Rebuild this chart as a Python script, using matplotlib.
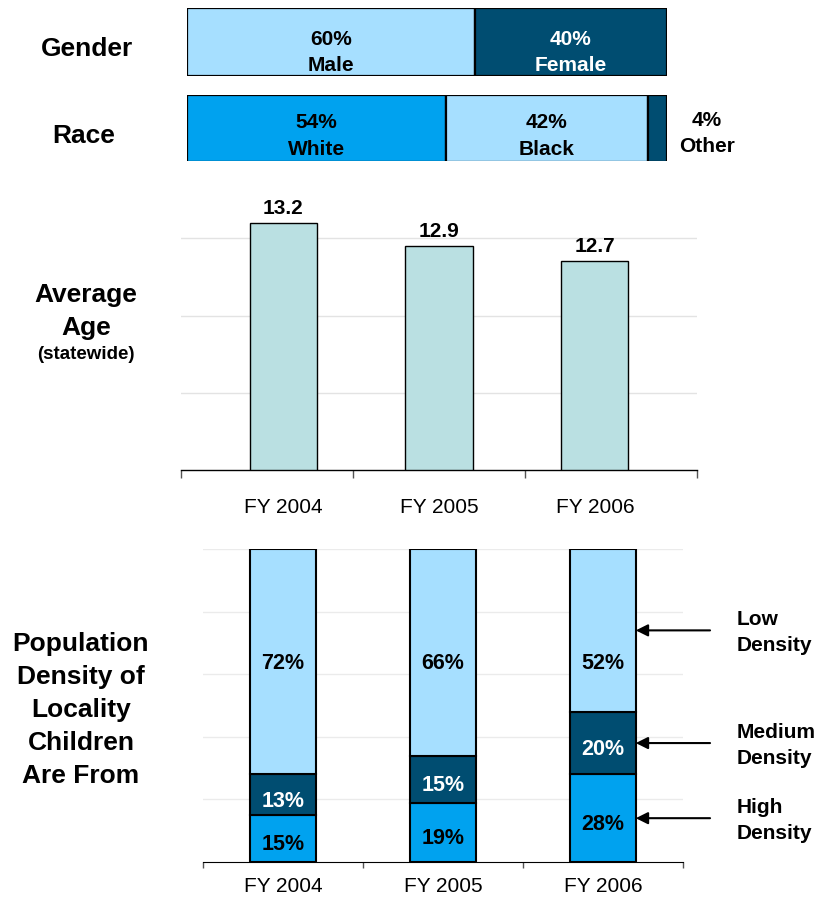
import numpy as np
import matplotlib
matplotlib.use("Agg")
import matplotlib.pyplot as plt

plt.rcParams['font.family'] = ['Liberation Sans', 'DejaVu Sans']

# datos
genero_labels = ["Male", "Female"]
genero_vals = [60, 40]
raza_labels = ["White", "Black", "Other"]
raza_vals = [54, 42, 4]

años = ["FY 2004", "FY 2005", "FY 2006"]
edad_prom = [13.2, 12.9, 12.7]

densidad_alta = [15, 19, 28]
densidad_media = [13, 15, 20]
densidad_baja = [72, 66, 52]
densidad_nombres = ["Low\nDensity", "Medium\nDensity", "High\nDensity"]

# colores
CLARO = '#A6DFFF'
OSCURO = '#004D71'
BRILLANTE = '#00A2EF'
EDAD = '#BAE0E2'

W, H = 827, 900


def px(l, t, r, b):
    return [l / W, 1 - b / H, (r - l) / W, (b - t) / H]


fig = plt.figure(figsize=(W / 100, H / 100), dpi=100)


def barra_horizontal(ax, valores, etiquetas, colores, colores_txt, mostrar, bajada):
    izq = 0
    for v, et, c, ct, m in zip(valores, etiquetas, colores, colores_txt, mostrar):
        ax.barh(0, v, left=izq, height=1, color=c, edgecolor='black', linewidth=1.6)
        if m:
            # va='baseline' se refiere a la última línea
            ax.annotate(f"{v}%\n{et}", (izq + v / 2, 0), xytext=(0, -bajada),
                        textcoords='offset points', ha='center', va='baseline',
                        fontsize=15, fontweight='bold', color=ct, linespacing=1.5)
        izq += v
    ax.set_xlim(0, sum(valores))
    ax.set_ylim(-0.5, 0.5)
    ax.axis('off')


# Gender
ax_g = fig.add_axes(px(187, 8, 667, 76))
barra_horizontal(ax_g, genero_vals, genero_labels, [CLARO, OSCURO], ['black', 'white'],
                 [True, True], 21)

# Race
ax_r = fig.add_axes(px(187, 95, 667, 162))
barra_horizontal(ax_r, raza_vals, raza_labels, [BRILLANTE, CLARO, OSCURO],
                 ['black', 'black', 'black'], [True, True, False], 19)
fig.text(707 / W, 1 - 152 / H, f"{raza_vals[2]}%\n{raza_labels[2]}",
         ha='center', va='baseline', fontsize=15, fontweight='bold', linespacing=1.45)

# Etiquetas izquierda
fig.text(87 / W, 1 - 56 / H, "Gender", ha='center', va='baseline', fontsize=19, fontweight='bold')
fig.text(84 / W, 1 - 143 / H, "Race", ha='center', va='baseline', fontsize=19, fontweight='bold')
fig.text(86 / W, 1 - 335 / H, "Average\nAge", ha='center', va='baseline', fontsize=19,
         fontweight='bold', linespacing=1.47)
fig.text(86 / W, 1 - 359 / H, "(statewide)", ha='center', va='baseline', fontsize=13.5,
         fontweight='bold')
fig.text(81 / W, 1 - 783 / H, "Population\nDensity of\nLocality\nChildren\nAre From",
         ha='center', va='baseline', fontsize=19, fontweight='bold', linespacing=1.47)

# Edad promedio
ax_e = fig.add_axes(px(181, 161, 697, 470))
x = np.arange(len(años))
barras = ax_e.bar(x, edad_prom, width=0.43, color=EDAD, edgecolor='black', linewidth=1, zorder=2)
ax_e.set_ylim(10, 14)
ax_e.set_xlim(-0.655, 2.655)
ax_e.set_yticks([11, 12, 13])
ax_e.yaxis.grid(True, color='#E3E3E3', linewidth=1, zorder=0)
ax_e.tick_params(axis='y', left=False, labelleft=False)
for s in ['top', 'right', 'left']:
    ax_e.spines[s].set_visible(False)
ax_e.spines['bottom'].set_linewidth(1)
ax_e.set_xticks(x)
ax_e.set_xticklabels(años, fontsize=15)
ax_e.tick_params(axis='x', which='major', length=0, pad=20)
ax_e.set_xticks(np.linspace(-0.655, 2.655, 4), minor=True)
ax_e.tick_params(axis='x', which='minor', length=6, width=1, color='#555555')
for b, v in zip(barras, edad_prom):
    ax_e.annotate(f"{v}", (b.get_x() + b.get_width() / 2, v), xytext=(0, 6.5),
                  textcoords='offset points', ha='center', va='baseline',
                  fontsize=15, fontweight='bold')

# Densidad de población
ax_d = fig.add_axes(px(203, 549, 683, 862))
ancho = 0.41
ax_d.bar(x, densidad_alta, width=ancho, color=BRILLANTE, edgecolor='black', linewidth=1.5, zorder=2)
base2 = np.array(densidad_alta)
ax_d.bar(x, densidad_media, width=ancho, bottom=base2, color=OSCURO, edgecolor='black',
         linewidth=1.5, zorder=2)
base3 = base2 + np.array(densidad_media)
ax_d.bar(x, densidad_baja, width=ancho, bottom=base3, color=CLARO, edgecolor='black',
         linewidth=1.5, zorder=2)

# etiquetas de la parte baja alineadas en una fila
y_baja = min(base3 + np.array(densidad_baja) / 2) - 0.7
for i in range(len(años)):
    ax_d.text(x[i], densidad_alta[i] / 2 - 2, f"{densidad_alta[i]}%", ha='center', va='center',
              fontsize=15.5, fontweight='bold', color='black', zorder=3)
    ax_d.text(x[i], base2[i] + densidad_media[i] / 2 - 2.2, f"{densidad_media[i]}%", ha='center',
              va='center', fontsize=15.5, fontweight='bold', color='white', zorder=3)
    ax_d.text(x[i], y_baja, f"{densidad_baja[i]}%", ha='center',
              va='center', fontsize=15.5, fontweight='bold', color='black', zorder=3)

ax_d.set_ylim(0, 100)
ax_d.set_xlim(-0.5, 2.5)
ax_d.set_yticks([20, 40, 60, 80, 100])
ax_d.yaxis.grid(True, color='#EBEBEB', linewidth=1, zorder=0)
ax_d.tick_params(axis='y', left=False, labelleft=False)
for s in ['top', 'right', 'left']:
    ax_d.spines[s].set_visible(False)
ax_d.set_xticks(x)
ax_d.set_xticklabels(años, fontsize=15)
ax_d.tick_params(axis='x', which='major', length=0, pad=11)
ax_d.set_xticks([-0.5, 0.5, 1.5, 2.5], minor=True)
ax_d.tick_params(axis='x', which='minor', length=4, width=1, color='#555555')

# flechas hacia la última barra
ult = len(años) - 1
borde = x[ult] + ancho / 2
medios = [base3[ult] + densidad_baja[ult] / 2,
          base2[ult] + densidad_media[ult] / 2,
          densidad_alta[ult] / 2]
for y, nombre in zip(medios, densidad_nombres):
    ax_d.annotate("", xy=(borde, y), xytext=(borde + 0.464, y),
                  arrowprops=dict(arrowstyle='-|>', color='black', lw=1.5,
                                  mutation_scale=18, shrinkA=0, shrinkB=0),
                  annotation_clip=False)
    ax_d.annotate(nombre, (borde + 0.63, y), xytext=(0, -15), textcoords='offset points',
                  ha='left', va='baseline', fontsize=15, fontweight='bold',
                  linespacing=1.45, annotation_clip=False)

fig.savefig("out.png", dpi=100)
